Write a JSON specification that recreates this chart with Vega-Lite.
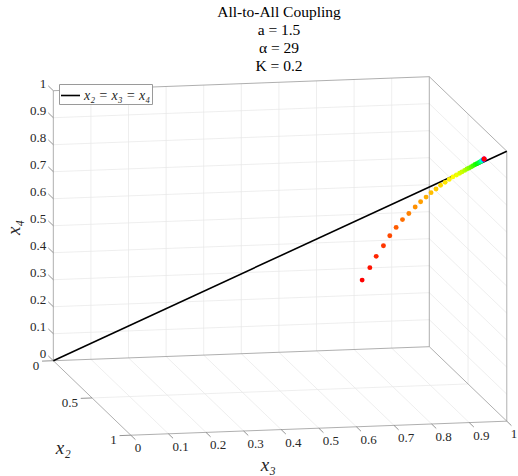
{
  "$schema": "https://vega.github.io/schema/vega-lite/v6.json",
  "width": 518,
  "height": 400,
  "autosize": {"type": "none"},
  "padding": {"left": 0, "top": 76, "right": 0, "bottom": 0},
  "background": "white",
  "title": {
    "text": ["All-to-All Coupling", "a = 1.5", "α = 29", "K = 0.2"],
    "font": "Liberation Serif",
    "fontSize": 15.5,
    "fontWeight": "normal",
    "lineHeight": 18,
    "anchor": "middle",
    "dx": 20,
    "offset": 1.5,
    "color": "black"
  },
  "config": {"view": {"stroke": null}},
  "datasets": {
    "grid": [
      {"a2":0,"a3":0.1,"a4":0,"b2":0,"b3":0.1,"b4":1},
      {"a2":0,"a3":0.2,"a4":0,"b2":0,"b3":0.2,"b4":1},
      {"a2":0,"a3":0.3,"a4":0,"b2":0,"b3":0.3,"b4":1},
      {"a2":0,"a3":0.4,"a4":0,"b2":0,"b3":0.4,"b4":1},
      {"a2":0,"a3":0.5,"a4":0,"b2":0,"b3":0.5,"b4":1},
      {"a2":0,"a3":0.6,"a4":0,"b2":0,"b3":0.6,"b4":1},
      {"a2":0,"a3":0.7,"a4":0,"b2":0,"b3":0.7,"b4":1},
      {"a2":0,"a3":0.8,"a4":0,"b2":0,"b3":0.8,"b4":1},
      {"a2":0,"a3":0.9,"a4":0,"b2":0,"b3":0.9,"b4":1},
      {"a2":0,"a3":0,"a4":0.1,"b2":0,"b3":1,"b4":0.1},
      {"a2":0,"a3":0,"a4":0.2,"b2":0,"b3":1,"b4":0.2},
      {"a2":0,"a3":0,"a4":0.3,"b2":0,"b3":1,"b4":0.3},
      {"a2":0,"a3":0,"a4":0.4,"b2":0,"b3":1,"b4":0.4},
      {"a2":0,"a3":0,"a4":0.5,"b2":0,"b3":1,"b4":0.5},
      {"a2":0,"a3":0,"a4":0.6,"b2":0,"b3":1,"b4":0.6},
      {"a2":0,"a3":0,"a4":0.7,"b2":0,"b3":1,"b4":0.7},
      {"a2":0,"a3":0,"a4":0.8,"b2":0,"b3":1,"b4":0.8},
      {"a2":0,"a3":0,"a4":0.9,"b2":0,"b3":1,"b4":0.9},
      {"a2":0,"a3":0.1,"a4":0,"b2":1,"b3":0.1,"b4":0},
      {"a2":0,"a3":0.2,"a4":0,"b2":1,"b3":0.2,"b4":0},
      {"a2":0,"a3":0.3,"a4":0,"b2":1,"b3":0.3,"b4":0},
      {"a2":0,"a3":0.4,"a4":0,"b2":1,"b3":0.4,"b4":0},
      {"a2":0,"a3":0.5,"a4":0,"b2":1,"b3":0.5,"b4":0},
      {"a2":0,"a3":0.6,"a4":0,"b2":1,"b3":0.6,"b4":0},
      {"a2":0,"a3":0.7,"a4":0,"b2":1,"b3":0.7,"b4":0},
      {"a2":0,"a3":0.8,"a4":0,"b2":1,"b3":0.8,"b4":0},
      {"a2":0,"a3":0.9,"a4":0,"b2":1,"b3":0.9,"b4":0},
      {"a2":0.5,"a3":0,"a4":0,"b2":0.5,"b3":1,"b4":0},
      {"a2":0,"a3":1,"a4":0.1,"b2":1,"b3":1,"b4":0.1},
      {"a2":0,"a3":1,"a4":0.2,"b2":1,"b3":1,"b4":0.2},
      {"a2":0,"a3":1,"a4":0.3,"b2":1,"b3":1,"b4":0.3},
      {"a2":0,"a3":1,"a4":0.4,"b2":1,"b3":1,"b4":0.4},
      {"a2":0,"a3":1,"a4":0.5,"b2":1,"b3":1,"b4":0.5},
      {"a2":0,"a3":1,"a4":0.6,"b2":1,"b3":1,"b4":0.6},
      {"a2":0,"a3":1,"a4":0.7,"b2":1,"b3":1,"b4":0.7},
      {"a2":0,"a3":1,"a4":0.8,"b2":1,"b3":1,"b4":0.8},
      {"a2":0,"a3":1,"a4":0.9,"b2":1,"b3":1,"b4":0.9},
      {"a2":0.5,"a3":1,"a4":0,"b2":0.5,"b3":1,"b4":1}
    ],
    "box": [
      {"a2":0,"a3":0,"a4":0,"b2":0,"b3":0,"b4":1},
      {"a2":0,"a3":0,"a4":1,"b2":0,"b3":1,"b4":1},
      {"a2":0,"a3":1,"a4":0,"b2":0,"b3":1,"b4":1},
      {"a2":0,"a3":0,"a4":0,"b2":0,"b3":1,"b4":0},
      {"a2":0,"a3":0,"a4":0,"b2":1,"b3":0,"b4":0},
      {"a2":1,"a3":0,"a4":0,"b2":1,"b3":1,"b4":0},
      {"a2":0,"a3":1,"a4":0,"b2":1,"b3":1,"b4":0},
      {"a2":0,"a3":1,"a4":1,"b2":1,"b3":1,"b4":1},
      {"a2":1,"a3":1,"a4":0,"b2":1,"b3":1,"b4":1}
    ],
    "ticks": [
      {"a2":0,"a3":0,"a4":0,"b2":-0.065,"b3":0,"b4":0},
      {"a2":0,"a3":0,"a4":0.1,"b2":-0.065,"b3":0,"b4":0.1},
      {"a2":0,"a3":0,"a4":0.2,"b2":-0.065,"b3":0,"b4":0.2},
      {"a2":0,"a3":0,"a4":0.3,"b2":-0.065,"b3":0,"b4":0.3},
      {"a2":0,"a3":0,"a4":0.4,"b2":-0.065,"b3":0,"b4":0.4},
      {"a2":0,"a3":0,"a4":0.5,"b2":-0.065,"b3":0,"b4":0.5},
      {"a2":0,"a3":0,"a4":0.6,"b2":-0.065,"b3":0,"b4":0.6},
      {"a2":0,"a3":0,"a4":0.7,"b2":-0.065,"b3":0,"b4":0.7},
      {"a2":0,"a3":0,"a4":0.8,"b2":-0.065,"b3":0,"b4":0.8},
      {"a2":0,"a3":0,"a4":0.9,"b2":-0.065,"b3":0,"b4":0.9},
      {"a2":0,"a3":0,"a4":1,"b2":-0.065,"b3":0,"b4":1},
      {"a2":1,"a3":0,"a4":0,"b2":1.06,"b3":0,"b4":0},
      {"a2":1,"a3":0.1,"a4":0,"b2":1.06,"b3":0.1,"b4":0},
      {"a2":1,"a3":0.2,"a4":0,"b2":1.06,"b3":0.2,"b4":0},
      {"a2":1,"a3":0.3,"a4":0,"b2":1.06,"b3":0.3,"b4":0},
      {"a2":1,"a3":0.4,"a4":0,"b2":1.06,"b3":0.4,"b4":0},
      {"a2":1,"a3":0.5,"a4":0,"b2":1.06,"b3":0.5,"b4":0},
      {"a2":1,"a3":0.6,"a4":0,"b2":1.06,"b3":0.6,"b4":0},
      {"a2":1,"a3":0.7,"a4":0,"b2":1.06,"b3":0.7,"b4":0},
      {"a2":1,"a3":0.8,"a4":0,"b2":1.06,"b3":0.8,"b4":0},
      {"a2":1,"a3":0.9,"a4":0,"b2":1.06,"b3":0.9,"b4":0},
      {"a2":1,"a3":1,"a4":0,"b2":1.06,"b3":1,"b4":0},
      {"a2":0,"a3":0,"a4":0,"b2":0,"b3":-0.03,"b4":0},
      {"a2":0.5,"a3":0,"a4":0,"b2":0.5,"b3":-0.03,"b4":0},
      {"a2":1,"a3":0,"a4":0,"b2":1,"b3":-0.03,"b4":0}
    ],
    "diag": [
      {"series":"x₂ = x₃ = x₄","a2":0,"a3":0,"a4":0,"b2":1,"b3":1,"b4":1}
    ],
    "traj": [
      {"x2":0.681,"x3":0.681,"x4":0.451,"t":0},
      {"x2":0.698,"x3":0.698,"x4":0.501,"t":0.012},
      {"x2":0.712,"x3":0.712,"x4":0.546,"t":0.024},
      {"x2":0.728,"x3":0.728,"x4":0.589,"t":0.036},
      {"x2":0.742,"x3":0.742,"x4":0.629,"t":0.048},
      {"x2":0.756,"x3":0.756,"x4":0.663,"t":0.06},
      {"x2":0.770,"x3":0.770,"x4":0.695,"t":0.072},
      {"x2":0.784,"x3":0.784,"x4":0.721,"t":0.084},
      {"x2":0.798,"x3":0.798,"x4":0.748,"t":0.094},
      {"x2":0.810,"x3":0.810,"x4":0.770,"t":0.104},
      {"x2":0.822,"x3":0.822,"x4":0.790,"t":0.114},
      {"x2":0.833,"x3":0.833,"x4":0.809,"t":0.124},
      {"x2":0.844,"x3":0.844,"x4":0.825,"t":0.133},
      {"x2":0.854,"x3":0.854,"x4":0.841,"t":0.142},
      {"x2":0.864,"x3":0.864,"x4":0.854,"t":0.150},
      {"x2":0.873,"x3":0.873,"x4":0.867,"t":0.158},
      {"x2":0.881,"x3":0.881,"x4":0.878,"t":0.166},
      {"x2":0.889,"x3":0.889,"x4":0.887,"t":0.176},
      {"x2":0.896,"x3":0.896,"x4":0.895,"t":0.188},
      {"x2":0.901,"x3":0.901,"x4":0.901,"t":0.200},
      {"x2":0.907,"x3":0.907,"x4":0.908,"t":0.215},
      {"x2":0.912,"x3":0.912,"x4":0.914,"t":0.230},
      {"x2":0.917,"x3":0.917,"x4":0.919,"t":0.250},
      {"x2":0.922,"x3":0.922,"x4":0.925,"t":0.270},
      {"x2":0.926,"x3":0.926,"x4":0.930,"t":0.290},
      {"x2":0.930,"x3":0.930,"x4":0.935,"t":0.310},
      {"x2":0.934,"x3":0.934,"x4":0.939,"t":0.330},
      {"x2":0.938,"x3":0.938,"x4":0.943,"t":0.360},
      {"x2":0.941,"x3":0.941,"x4":0.947,"t":0.390},
      {"x2":0.944,"x3":0.944,"x4":0.951,"t":0.430},
      {"x2":0.946,"x3":0.946,"x4":0.954,"t":0.470},
      {"x2":0.948,"x3":0.948,"x4":0.957,"t":0.520},
      {"x2":0.949,"x3":0.949,"x4":0.958,"t":0.600},
      {"x2":0.950,"x3":0.950,"x4":0.959,"t":0.700},
      {"x2":0.950,"x3":0.950,"x4":0.960,"t":0.800},
      {"x2":0.950,"x3":0.950,"x4":0.960,"t":0.900},
      {"x2":0.950,"x3":0.950,"x4":0.960,"t":1.000}
    ],
    "labels": [
      {"axis":"x4","value":0},{"axis":"x4","value":0.1},{"axis":"x4","value":0.2},{"axis":"x4","value":0.3},
      {"axis":"x4","value":0.4},{"axis":"x4","value":0.5},{"axis":"x4","value":0.6},{"axis":"x4","value":0.7},
      {"axis":"x4","value":0.8},{"axis":"x4","value":0.9},{"axis":"x4","value":1},
      {"axis":"x3","value":0},{"axis":"x3","value":0.1},{"axis":"x3","value":0.2},{"axis":"x3","value":0.3},
      {"axis":"x3","value":0.4},{"axis":"x3","value":0.5},{"axis":"x3","value":0.6},{"axis":"x3","value":0.7},
      {"axis":"x3","value":0.8},{"axis":"x3","value":0.9},{"axis":"x3","value":1},
      {"axis":"x2","value":0},{"axis":"x2","value":0.5},{"axis":"x2","value":1}
    ],
    "axistitles": [
      {"name":"x₃"},{"name":"x₂"},{"name":"x₄"}
    ]
  },
  "resolve": {"scale": {"color": "independent"}, "legend": {"color": "independent"}},
  "layer": [
    {
      "data": {"name": "grid"},
      "transform": [
        {"calculate": "datum.a3 + 0.2061*datum.a2", "as": "u1"},
        {"calculate": "datum.a4 + 0.0519*datum.a3 - 0.2759*datum.a2", "as": "v1"},
        {"calculate": "datum.b3 + 0.2061*datum.b2", "as": "u2"},
        {"calculate": "datum.b4 + 0.0519*datum.b3 - 0.2759*datum.b2", "as": "v2"}
      ],
      "mark": {"type": "rule", "color": "#e6e6e6", "strokeWidth": 0.7},
      "encoding": {
        "x": {"field": "u1", "type": "quantitative", "scale": {"domain": [-0.1418, 1.2359], "nice": false, "zero": false}, "axis": null},
        "y": {"field": "v1", "type": "quantitative", "scale": {"domain": [-0.4270, 1.0544], "nice": false, "zero": false}, "axis": null},
        "x2": {"field": "u2"},
        "y2": {"field": "v2"}
      }
    },
    {
      "data": {"name": "box"},
      "transform": [
        {"calculate": "datum.a3 + 0.2061*datum.a2", "as": "u1"},
        {"calculate": "datum.a4 + 0.0519*datum.a3 - 0.2759*datum.a2", "as": "v1"},
        {"calculate": "datum.b3 + 0.2061*datum.b2", "as": "u2"},
        {"calculate": "datum.b4 + 0.0519*datum.b3 - 0.2759*datum.b2", "as": "v2"}
      ],
      "mark": {"type": "rule", "color": "#9a9a9a", "strokeWidth": 0.8},
      "encoding": {
        "x": {"field": "u1", "type": "quantitative", "scale": {"domain": [-0.1418, 1.2359], "nice": false, "zero": false}, "axis": null},
        "y": {"field": "v1", "type": "quantitative", "scale": {"domain": [-0.4270, 1.0544], "nice": false, "zero": false}, "axis": null},
        "x2": {"field": "u2"},
        "y2": {"field": "v2"}
      }
    },
    {
      "data": {"name": "ticks"},
      "transform": [
        {"calculate": "datum.a3 + 0.2061*datum.a2", "as": "u1"},
        {"calculate": "datum.a4 + 0.0519*datum.a3 - 0.2759*datum.a2", "as": "v1"},
        {"calculate": "datum.b3 + 0.2061*datum.b2", "as": "u2"},
        {"calculate": "datum.b4 + 0.0519*datum.b3 - 0.2759*datum.b2", "as": "v2"}
      ],
      "mark": {"type": "rule", "color": "#7a7a7a", "strokeWidth": 0.8},
      "encoding": {
        "x": {"field": "u1", "type": "quantitative", "scale": {"domain": [-0.1418, 1.2359], "nice": false, "zero": false}, "axis": null},
        "y": {"field": "v1", "type": "quantitative", "scale": {"domain": [-0.4270, 1.0544], "nice": false, "zero": false}, "axis": null},
        "x2": {"field": "u2"},
        "y2": {"field": "v2"}
      }
    },
    {
      "data": {"name": "diag"},
      "transform": [
        {"calculate": "datum.a3 + 0.2061*datum.a2", "as": "u1"},
        {"calculate": "datum.a4 + 0.0519*datum.a3 - 0.2759*datum.a2", "as": "v1"},
        {"calculate": "datum.b3 + 0.2061*datum.b2", "as": "u2"},
        {"calculate": "datum.b4 + 0.0519*datum.b3 - 0.2759*datum.b2", "as": "v2"}
      ],
      "mark": {"type": "rule", "strokeWidth": 1.6},
      "encoding": {
        "x": {"field": "u1", "type": "quantitative", "scale": {"domain": [-0.1418, 1.2359], "nice": false, "zero": false}, "axis": null},
        "y": {"field": "v1", "type": "quantitative", "scale": {"domain": [-0.4270, 1.0544], "nice": false, "zero": false}, "axis": null},
        "x2": {"field": "u2"},
        "y2": {"field": "v2"},
        "color": {
          "field": "series", "type": "nominal",
          "scale": {"range": ["black"]},
          "legend": {
            "title": null, "orient": "none", "legendX": 59, "legendY": 8,
            "symbolType": "stroke", "symbolSize": 361, "symbolStrokeWidth": 1.6,
            "labelFont": "Liberation Serif", "labelFontStyle": "italic", "labelFontSize": 14, "labelColor": "#262626",
            "labelOffset": 3, "fillColor": "white", "strokeColor": "#9a9a9a", "padding": 1
          }
        }
      }
    },
    {
      "data": {"name": "traj"},
      "transform": [
        {"calculate": "datum.x3 + 0.2061*datum.x2", "as": "u"},
        {"calculate": "datum.x4 + 0.0519*datum.x3 - 0.2759*datum.x2", "as": "v"}
      ],
      "mark": {"type": "circle", "size": 24, "opacity": 1},
      "encoding": {
        "x": {"field": "u", "type": "quantitative", "scale": {"domain": [-0.1418, 1.2359], "nice": false, "zero": false}, "axis": null},
        "y": {"field": "v", "type": "quantitative", "scale": {"domain": [-0.4270, 1.0544], "nice": false, "zero": false}, "axis": null},
        "order": {"field": "t", "type": "quantitative"},
        "color": {
          "field": "t", "type": "quantitative", "legend": null,
          "scale": {"domain": [0, 1], "interpolate": "rgb", "range": ["#ff0000", "#ffff00", "#00ff00", "#00ffff", "#0000ff", "#ff00ff", "#ff0000"]}
        }
      }
    },
    {
      "data": {"name": "labels"},
      "transform": [
        {"filter": "datum.axis === 'x4'"}
      ],
      "mark": {"type": "text", "font": "Liberation Serif", "fontSize": 13, "align": "right", "baseline": "middle", "dx": -7, "dy": -7, "color": "#262626"},
      "encoding": {
        "x": {"datum": 0, "type": "quantitative", "scale": {"domain": [-0.1418, 1.2359], "nice": false, "zero": false}, "axis": null},
        "y": {"field": "value", "type": "quantitative", "scale": {"domain": [-0.4270, 1.0544], "nice": false, "zero": false}, "axis": null},
        "text": {"field": "value", "type": "nominal"}
      }
    },
    {
      "data": {"name": "labels"},
      "transform": [
        {"filter": "datum.axis === 'x3'"},
        {"calculate": "datum.value + 0.2061", "as": "u"},
        {"calculate": "0.0519*datum.value - 0.2759", "as": "v"}
      ],
      "mark": {"type": "text", "font": "Liberation Serif", "fontSize": 13, "align": "left", "baseline": "middle", "dx": 4, "dy": 13, "color": "#262626"},
      "encoding": {
        "x": {"field": "u", "type": "quantitative", "scale": {"domain": [-0.1418, 1.2359], "nice": false, "zero": false}, "axis": null},
        "y": {"field": "v", "type": "quantitative", "scale": {"domain": [-0.4270, 1.0544], "nice": false, "zero": false}, "axis": null},
        "text": {"field": "value", "type": "nominal"}
      }
    },
    {
      "data": {"name": "labels"},
      "transform": [
        {"filter": "datum.axis === 'x2'"},
        {"calculate": "0.2061*datum.value", "as": "u"},
        {"calculate": "-0.2759*datum.value", "as": "v"}
      ],
      "mark": {"type": "text", "font": "Liberation Serif", "fontSize": 13, "align": "right", "baseline": "middle", "dx": -14, "dy": 5, "color": "#262626"},
      "encoding": {
        "x": {"field": "u", "type": "quantitative", "scale": {"domain": [-0.1418, 1.2359], "nice": false, "zero": false}, "axis": null},
        "y": {"field": "v", "type": "quantitative", "scale": {"domain": [-0.4270, 1.0544], "nice": false, "zero": false}, "axis": null},
        "text": {"field": "value", "type": "nominal"}
      }
    },
    {
      "data": {"name": "axistitles"},
      "transform": [{"filter": "datum.name === 'x₃'"}],
      "mark": {"type": "text", "font": "Liberation Serif", "fontStyle": "italic", "fontSize": 19, "align": "center", "baseline": "middle", "color": "#262626"},
      "encoding": {
        "x": {"datum": 0.5718, "type": "quantitative", "scale": {"domain": [-0.1418, 1.2359], "nice": false, "zero": false}, "axis": null},
        "y": {"datum": -0.3863, "type": "quantitative", "scale": {"domain": [-0.4270, 1.0544], "nice": false, "zero": false}, "axis": null},
        "text": {"field": "name", "type": "nominal"}
      }
    },
    {
      "data": {"name": "axistitles"},
      "transform": [{"filter": "datum.name === 'x₂'"}],
      "mark": {"type": "text", "font": "Liberation Serif", "fontStyle": "italic", "fontSize": 19, "align": "center", "baseline": "middle", "color": "#262626"},
      "encoding": {
        "x": {"datum": 0.0266, "type": "quantitative", "scale": {"domain": [-0.1418, 1.2359], "nice": false, "zero": false}, "axis": null},
        "y": {"datum": -0.3244, "type": "quantitative", "scale": {"domain": [-0.4270, 1.0544], "nice": false, "zero": false}, "axis": null},
        "text": {"field": "name", "type": "nominal"}
      }
    },
    {
      "data": {"name": "axistitles"},
      "transform": [{"filter": "datum.name === 'x₄'"}],
      "mark": {"type": "text", "font": "Liberation Serif", "fontStyle": "italic", "fontSize": 19, "align": "center", "baseline": "middle", "angle": 270, "color": "#262626"},
      "encoding": {
        "x": {"datum": -0.1045, "type": "quantitative", "scale": {"domain": [-0.1418, 1.2359], "nice": false, "zero": false}, "axis": null},
        "y": {"datum": 0.4933, "type": "quantitative", "scale": {"domain": [-0.4270, 1.0544], "nice": false, "zero": false}, "axis": null},
        "text": {"field": "name", "type": "nominal"}
      }
    }
  ]
}
